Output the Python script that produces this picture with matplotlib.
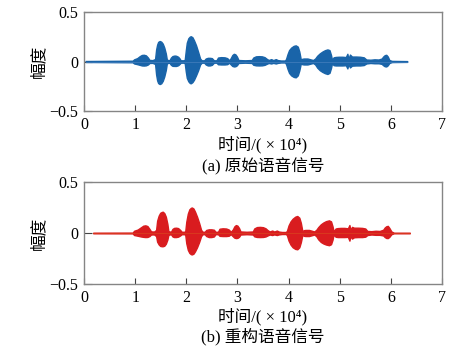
import matplotlib
matplotlib.use("Agg")
import matplotlib.pyplot as plt
import numpy as np

plt.rcParams['font.family'] = ['Liberation Serif', 'Noto Sans CJK SC', 'DejaVu Sans']

# ---- data: amplitude envelope (time in units of 1e4 samples)
t_a = [0.03, 0.95, 0.98, 1.04, 1.09, 1.13, 1.17, 1.21, 1.25, 1.28, 1.34,
       1.39, 1.41, 1.43, 1.45, 1.48, 1.51, 1.54, 1.57, 1.60, 1.62,
       1.67, 1.70, 1.73, 1.77, 1.80, 1.84, 1.87, 1.89, 1.95,
       1.97, 1.99, 2.01, 2.04, 2.07, 2.09, 2.12, 2.15, 2.19, 2.23, 2.27, 2.30,
       2.35, 2.38, 2.42, 2.46, 2.50, 2.54, 2.59, 2.62, 2.68, 2.75, 2.80, 2.84,
       2.87, 2.90, 2.93, 2.96, 2.99, 3.02, 3.15, 3.28, 3.31, 3.36, 3.42, 3.48, 3.53, 3.57,
       3.61, 3.66, 3.70, 3.75, 3.79, 3.85, 3.93,
       3.95, 3.98, 4.01, 4.05, 4.10, 4.14, 4.18, 4.21, 4.24, 4.27, 4.30, 4.37, 4.44, 4.48,
       4.52, 4.56, 4.61, 4.66, 4.71, 4.76, 4.80, 4.83, 4.85,
       4.88, 4.92, 4.98, 5.05, 5.12, 5.15, 5.17, 5.20, 5.24, 5.32, 5.40, 5.47, 5.52,
       5.60, 5.68, 5.76, 5.82, 5.85, 5.88, 5.91, 5.94, 5.97, 6.02, 6.32]
up_a = [0.005, 0.008, 0.022, 0.034, 0.054, 0.066, 0.068, 0.062, 0.040, 0.016, 0.014,
        0.025, 0.120, 0.170, 0.198, 0.207, 0.200, 0.180, 0.140, 0.080, 0.018,
        0.012, 0.040, 0.055, 0.060, 0.058, 0.048, 0.030, 0.012, 0.012,
        0.018, 0.110, 0.190, 0.235, 0.252, 0.255, 0.245, 0.215, 0.165, 0.100, 0.030, 0.012,
        0.012, 0.030, 0.037, 0.037, 0.034, 0.012, 0.012, 0.040, 0.044, 0.042, 0.034, 0.012,
        0.035, 0.065, 0.078, 0.072, 0.050, 0.015, 0.012, 0.015, 0.040, 0.052, 0.054, 0.052, 0.044, 0.028,
        0.015, 0.024, 0.014, 0.024, 0.014, 0.010, 0.010,
        0.025, 0.075, 0.115, 0.140, 0.158, 0.163, 0.150, 0.100, 0.018, 0.028, 0.030, 0.030, 0.020, 0.015,
        0.030, 0.058, 0.082, 0.100, 0.114, 0.122, 0.115, 0.065, 0.015,
        0.042, 0.046, 0.048, 0.048, 0.045, 0.078, 0.025, 0.070, 0.050, 0.050, 0.048, 0.042, 0.020,
        0.018, 0.022, 0.020, 0.030, 0.050, 0.064, 0.068, 0.050, 0.015, 0.006, 0.004]
lo_a = [-0.005, -0.008, -0.020, -0.027, -0.034, -0.040, -0.041, -0.039, -0.030, -0.015, -0.014,
        -0.025, -0.130, -0.190, -0.218, -0.228, -0.220, -0.195, -0.150, -0.085, -0.018,
        -0.012, -0.034, -0.044, -0.045, -0.045, -0.038, -0.024, -0.012, -0.012,
        -0.018, -0.100, -0.165, -0.200, -0.218, -0.220, -0.208, -0.185, -0.140, -0.090, -0.030, -0.012,
        -0.012, -0.030, -0.040, -0.040, -0.034, -0.012, -0.012, -0.028, -0.030, -0.030, -0.027, -0.012,
        -0.030, -0.045, -0.050, -0.048, -0.038, -0.015, -0.012, -0.015, -0.033, -0.039, -0.040, -0.039, -0.034, -0.024,
        -0.015, -0.020, -0.014, -0.020, -0.014, -0.010, -0.010,
        -0.025, -0.075, -0.115, -0.140, -0.156, -0.160, -0.140, -0.090, -0.018, -0.028, -0.030, -0.030, -0.020, -0.015,
        -0.030, -0.062, -0.088, -0.105, -0.118, -0.126, -0.115, -0.065, -0.015,
        -0.037, -0.040, -0.040, -0.040, -0.038, -0.070, -0.025, -0.060, -0.042, -0.040, -0.040, -0.036, -0.020,
        -0.015, -0.018, -0.018, -0.024, -0.038, -0.048, -0.050, -0.038, -0.015, -0.006, -0.004]

t_b = [0.18, 0.95, 0.98, 1.05, 1.11, 1.16, 1.20, 1.24, 1.28, 1.31, 1.37,
       1.41, 1.43, 1.46, 1.49, 1.52, 1.54, 1.57, 1.60, 1.63, 1.65,
       1.70, 1.73, 1.76, 1.80, 1.84, 1.88, 1.91, 1.96,
       1.98, 2.00, 2.03, 2.06, 2.09, 2.11, 2.14, 2.17, 2.21, 2.25, 2.29, 2.32,
       2.36, 2.39, 2.44, 2.49, 2.54, 2.57, 2.62, 2.65, 2.71, 2.78, 2.83, 2.87,
       2.91, 2.94, 2.97, 3.00, 3.03, 3.06, 3.18, 3.30, 3.33, 3.38, 3.44, 3.50, 3.55, 3.59,
       3.63, 3.68, 3.72, 3.77, 3.81, 3.87, 3.95,
       3.97, 4.00, 4.04, 4.08, 4.13, 4.17, 4.21, 4.24, 4.27, 4.30, 4.33, 4.40, 4.47, 4.50,
       4.54, 4.58, 4.63, 4.68, 4.73, 4.79, 4.83, 4.86, 4.88,
       4.92, 4.96, 5.02, 5.09, 5.16, 5.19, 5.21, 5.24, 5.28, 5.36, 5.44, 5.50, 5.54,
       5.62, 5.70, 5.78, 5.85, 5.88, 5.91, 5.94, 5.97, 6.01, 6.06, 6.37]
up_b = [0.003, 0.004, 0.022, 0.034, 0.055, 0.072, 0.075, 0.068, 0.040, 0.016, 0.014,
        0.030, 0.120, 0.170, 0.198, 0.206, 0.209, 0.195, 0.160, 0.090, 0.018,
        0.012, 0.040, 0.050, 0.052, 0.048, 0.030, 0.012, 0.012,
        0.018, 0.110, 0.190, 0.232, 0.247, 0.250, 0.240, 0.210, 0.160, 0.100, 0.030, 0.012,
        0.012, 0.030, 0.036, 0.036, 0.032, 0.012, 0.012, 0.042, 0.046, 0.044, 0.034, 0.012,
        0.035, 0.065, 0.078, 0.072, 0.050, 0.015, 0.012, 0.015, 0.045, 0.058, 0.060, 0.057, 0.046, 0.028,
        0.015, 0.024, 0.014, 0.024, 0.014, 0.010, 0.010,
        0.025, 0.075, 0.115, 0.140, 0.160, 0.167, 0.150, 0.100, 0.018, 0.028, 0.030, 0.030, 0.020, 0.015,
        0.030, 0.058, 0.085, 0.103, 0.116, 0.124, 0.114, 0.065, 0.015,
        0.044, 0.048, 0.050, 0.050, 0.046, 0.078, 0.030, 0.060, 0.052, 0.052, 0.050, 0.044, 0.020,
        0.018, 0.022, 0.020, 0.032, 0.054, 0.066, 0.070, 0.050, 0.015, 0.003, 0.003]
lo_b = [-0.003, -0.004, -0.020, -0.027, -0.034, -0.038, -0.040, -0.039, -0.030, -0.015, -0.014,
        -0.030, -0.085, -0.112, -0.127, -0.130, -0.130, -0.125, -0.105, -0.065, -0.018,
        -0.012, -0.034, -0.040, -0.040, -0.036, -0.024, -0.012, -0.012,
        -0.018, -0.100, -0.165, -0.195, -0.208, -0.210, -0.203, -0.180, -0.140, -0.090, -0.030, -0.012,
        -0.012, -0.030, -0.040, -0.040, -0.034, -0.012, -0.012, -0.028, -0.030, -0.030, -0.027, -0.012,
        -0.032, -0.046, -0.050, -0.048, -0.038, -0.015, -0.012, -0.015, -0.033, -0.039, -0.040, -0.039, -0.034, -0.024,
        -0.015, -0.020, -0.014, -0.020, -0.014, -0.010, -0.010,
        -0.025, -0.075, -0.115, -0.140, -0.156, -0.160, -0.140, -0.090, -0.018, -0.028, -0.030, -0.030, -0.020, -0.015,
        -0.030, -0.062, -0.088, -0.103, -0.113, -0.120, -0.110, -0.065, -0.015,
        -0.037, -0.040, -0.040, -0.040, -0.038, -0.075, -0.030, -0.055, -0.042, -0.040, -0.040, -0.036, -0.020,
        -0.015, -0.018, -0.018, -0.024, -0.040, -0.049, -0.050, -0.038, -0.012, -0.003, -0.003]

x_ticks = [0, 1, 2, 3, 4, 5, 6, 7]
y_ticks = [-0.5, 0, 0.5]
y_ticklabels = ['\u22120.5', '0', '0.5']
ylabel = '幅度'
xlabel = '时间/( × 10\u2074)'
captions = ['(a) 原始语音信号', '(b) 重构语音信号']

W, H = 464, 351
fig = plt.figure(figsize=(W / 100, H / 100), dpi=100)

def px_axes(l, t, r, b):
    return fig.add_axes([l / W, 1 - b / H, (r - l) / W, (b - t) / H])

ax_a = px_axes(84, 12, 442, 111)
ax_b = px_axes(84, 182, 442, 284)

series = [(ax_a, t_a, up_a, lo_a, '#1964a9', '#3a78b8'),
          (ax_b, t_b, up_b, lo_b, '#d91c1f', '#d9381e')]

for ax, t, up, lo, col, lcol in series:
    t = np.asarray(t)
    ax.fill_between(t, lo, up, color=col, linewidth=1.0, edgecolor=col)
    ax.plot([t[0], t[-1]], [0, 0], color=lcol, lw=0.7)
    ax.set_xlim(0, 7)
    ax.set_ylim(-0.5, 0.5)
    ax.set_xticks(x_ticks)
    ax.set_xticklabels([str(v) for v in x_ticks])
    ax.set_yticks(y_ticks)
    ax.set_yticklabels(y_ticklabels)
    ax.tick_params(direction='in', length=4.5, width=0.8, color='#444444',
                   labelsize=11.5, top=False, right=False, pad=4)
    ax.tick_params(axis='y', length=5.5, pad=4)
    for s in ax.spines.values():
        s.set_color('#858585')
        s.set_linewidth(1.0)
    ax.set_ylabel(ylabel, fontsize=12, labelpad=2)

cx = 263 / W
for y_xl, y_cap, cap in [(145, 167, captions[0]), (317, 337, captions[1])]:
    fig.text(cx, 1 - y_xl / H, xlabel, ha='center', va='center', fontsize=12)
    fig.text(cx, 1 - y_cap / H, cap, ha='center', va='center', fontsize=12)

fig.savefig('out.png', dpi=100)
